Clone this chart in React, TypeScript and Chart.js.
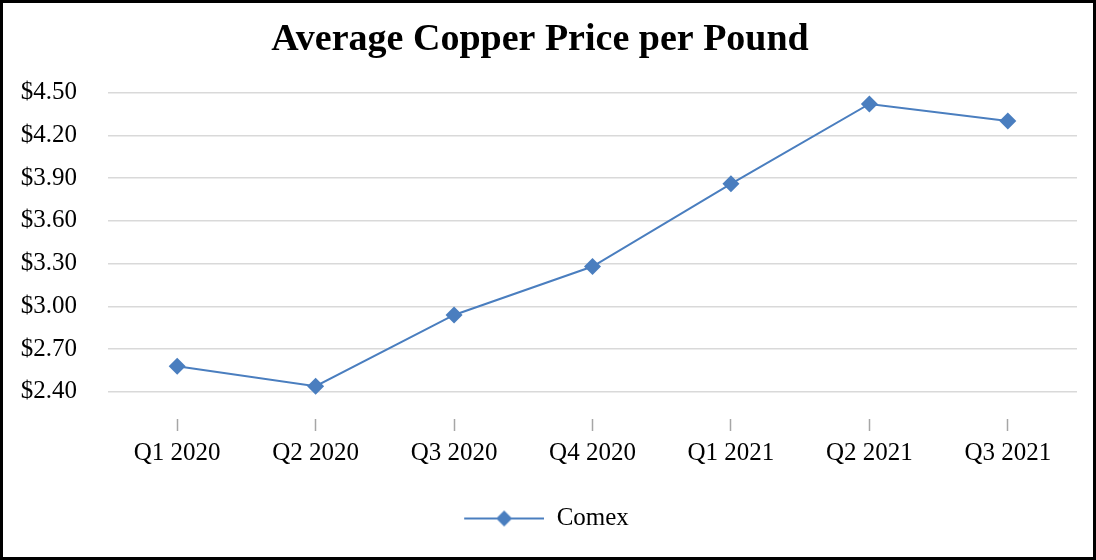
import React, { useEffect, useRef } from "react";
import { Chart, registerables } from "chart.js";

Chart.register(...registerables);

const categories = ["Q1 2020", "Q2 2020", "Q3 2020", "Q4 2020", "Q1 2021", "Q2 2021", "Q3 2021"];
const comex = [2.58, 2.44, 2.94, 3.28, 3.86, 4.42, 4.3];
const yTickValues = [2.4, 2.7, 3.0, 3.3, 3.6, 3.9, 4.2, 4.5];
const seriesName = "Comex";
const titleText = "Average Copper Price per Pound";

const LINE_COLOR = "#4a7ebf";
const FONT = "'Liberation Serif', 'Times New Roman', serif";

function makeLegendIcon(): HTMLCanvasElement {
  const c = document.createElement("canvas");
  c.width = 93;
  c.height = 20;
  const ctx = c.getContext("2d")!;
  ctx.strokeStyle = LINE_COLOR;
  ctx.lineWidth = 2;
  ctx.beginPath();
  ctx.moveTo(13, 10);
  ctx.lineTo(93, 10);
  ctx.stroke();
  ctx.fillStyle = LINE_COLOR;
  ctx.beginPath();
  ctx.moveTo(53, 2);
  ctx.lineTo(61, 10);
  ctx.lineTo(53, 18);
  ctx.lineTo(45, 10);
  ctx.closePath();
  ctx.fill();
  return c;
}

export default function App() {
  const ref = useRef<HTMLCanvasElement | null>(null);

  useEffect(() => {
    document.body.style.margin = "0";
    if (!ref.current) return;
    const icon = makeLegendIcon();
    const chart = new Chart(ref.current, {
      type: "line",
      data: {
        labels: categories,
        datasets: [
          {
            label: seriesName,
            data: comex,
            borderColor: LINE_COLOR,
            backgroundColor: LINE_COLOR,
            borderWidth: 2,
            pointStyle: "rectRot",
            pointRadius: 8.5,
            pointBorderWidth: 0,
            pointBackgroundColor: LINE_COLOR,
            tension: 0,
          },
        ],
      },
      options: {
        responsive: false,
        animation: false,
        layout: { padding: { left: 0, right: 16, top: 0, bottom: 16 } },
        plugins: {
          title: {
            display: true,
            text: titleText,
            color: "#000",
            font: { family: FONT, size: 38, weight: "bold", lineHeight: 1.2 },
            padding: { top: 14, bottom: 30 },
          },
          legend: {
            position: "bottom",
            labels: {
              usePointStyle: true,
              pointStyleWidth: 93,
              color: "#000",
              padding: 10,
              font: { family: FONT, size: 25, lineHeight: 1.2 },
              generateLabels: (c: any) => {
                const items = (Chart as any).defaults.plugins.legend.labels.generateLabels(c);
                items.forEach((it: any) => {
                  it.pointStyle = icon;
                });
                return items;
              },
            },
          },
          tooltip: { enabled: false },
        },
        scales: {
          x: {
            offset: true,
            border: { display: false },
            grid: {
              drawOnChartArea: false,
              drawTicks: true,
              tickLength: 12,
              tickWidth: 1.5,
              tickColor: "#a6a6a6",
            },
            ticks: {
              color: "#000",
              padding: 7,
              maxRotation: 0,
              font: { family: FONT, size: 25, lineHeight: 1.2 },
            },
            afterFit: (s: any) => {
              s.height = 77;
            },
          },
          y: {
            min: 2.21,
            max: 4.5,
            border: { display: false },
            grid: { color: "#d9d9d9", lineWidth: 1.5, drawTicks: false },
            ticks: {
              color: "#000",
              padding: 31,
              font: { family: FONT, size: 25, lineHeight: 1.2 },
              callback: (v: any) => "$" + Number(v).toFixed(2),
            },
            afterBuildTicks: (s: any) => {
              s.ticks = yTickValues.map((v) => ({ value: v }));
            },
            afterFit: (s: any) => {
              s.width = 105;
            },
          },
        },
      },
    });
    return () => chart.destroy();
  }, []);

  return (
    <div
      style={{
        width: 1096,
        height: 560,
        border: "3px solid #000",
        boxSizing: "border-box",
        background: "#fff",
      }}
    >
      <canvas ref={ref} width={1090} height={554} style={{ display: "block" }} />
    </div>
  );
}
